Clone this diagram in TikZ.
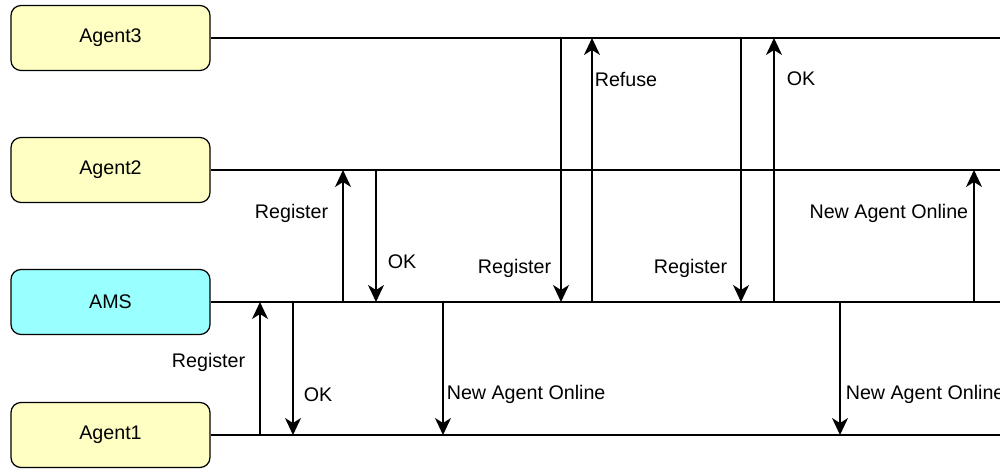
\documentclass[tikz,border=0pt]{standalone}
\usepackage{fontspec}
\setmainfont{Liberation Sans}
\usepackage{xcolor}
\usepackage{tikz}
\usetikzlibrary{arrows.meta}
\definecolor{agentfill}{RGB}{255, 255, 196}
\definecolor{amsfill}{RGB}{153, 255, 255}

\begin{document}
\begin{tikzpicture}[
    font=\fontsize{11.2}{13}\selectfont,
    party/.style={draw, rounded corners=0.2cm, line width=0.7pt, minimum width=3.98cm, minimum height=1.3cm},
    life/.style={line width=0.7pt},
    msg/.style={line width=0.9pt, -{Stealth[length=3.4mm, width=3.2mm, inset=1mm]}},
    lbl/.style={inner sep=0pt, yshift=-0.04cm}
]
    \useasboundingbox (0,0) rectangle (20,-9.38);

    % Parties
    \node[party, fill=agentfill] (ag3) at (2.21,-0.76) {Agent3};
    \node[party, fill=agentfill] (ag2) at (2.21,-3.4) {Agent2};
    \node[party, fill=amsfill] (ams) at (2.21,-6.04) {AMS};
    \node[party, fill=agentfill] (ag1) at (2.21,-8.7) {Agent1};

    % Lifelines
    \foreach \p in {ag3,ag2,ams,ag1} {
        \draw[life] (\p.east) -- (20,0 |- \p);
    }

    % Agent1 registers
    \draw[msg] (5.2,0 |- ag1) -- node[lbl, pos=0.56, left=0.28cm] {Register} (5.2,0 |- ams);
    \draw[msg] (5.86,0 |- ams) -- node[lbl, pos=0.68, right=0.2cm] {OK} (5.86,0 |- ag1);

    % Agent2 registers
    \draw[msg] (6.86,0 |- ams) -- node[lbl, pos=0.69, left=0.28cm] {Register} (6.86,0 |- ag2);
    \draw[msg] (7.52,0 |- ag2) -- node[lbl, pos=0.68, right=0.22cm] {OK} (7.52,0 |- ams);
    \draw[msg] (8.86,0 |- ams) -- node[lbl, pos=0.68, right=0.06cm] {New Agent Online} (8.86,0 |- ag1);

    % Agent3 refused, then accepted
    \draw[msg] (11.22,0 |- ag3) -- node[lbl, pos=0.867, left=0.18cm] {Register} (11.22,0 |- ams);
    \draw[msg] (11.84,0 |- ams) -- node[lbl, pos=0.852, right=0.04cm] {Refuse} (11.84,0 |- ag3);
    \draw[msg] (14.82,0 |- ag3) -- node[lbl, pos=0.867, left=0.26cm] {Register} (14.82,0 |- ams);
    \draw[msg] (15.48,0 |- ams) -- node[lbl, pos=0.852, right=0.24cm] {OK} (15.48,0 |- ag3);

    % Broadcast to the others
    \draw[msg] (16.8,0 |- ams) -- node[lbl, pos=0.68, right=0.1cm] {New Agent Online} (16.8,0 |- ag1);
    \draw[msg] (19.48,0 |- ams) -- node[lbl, pos=0.69, left=0.1cm] {New Agent Online} (19.48,0 |- ag2);
\end{tikzpicture}
\end{document}
